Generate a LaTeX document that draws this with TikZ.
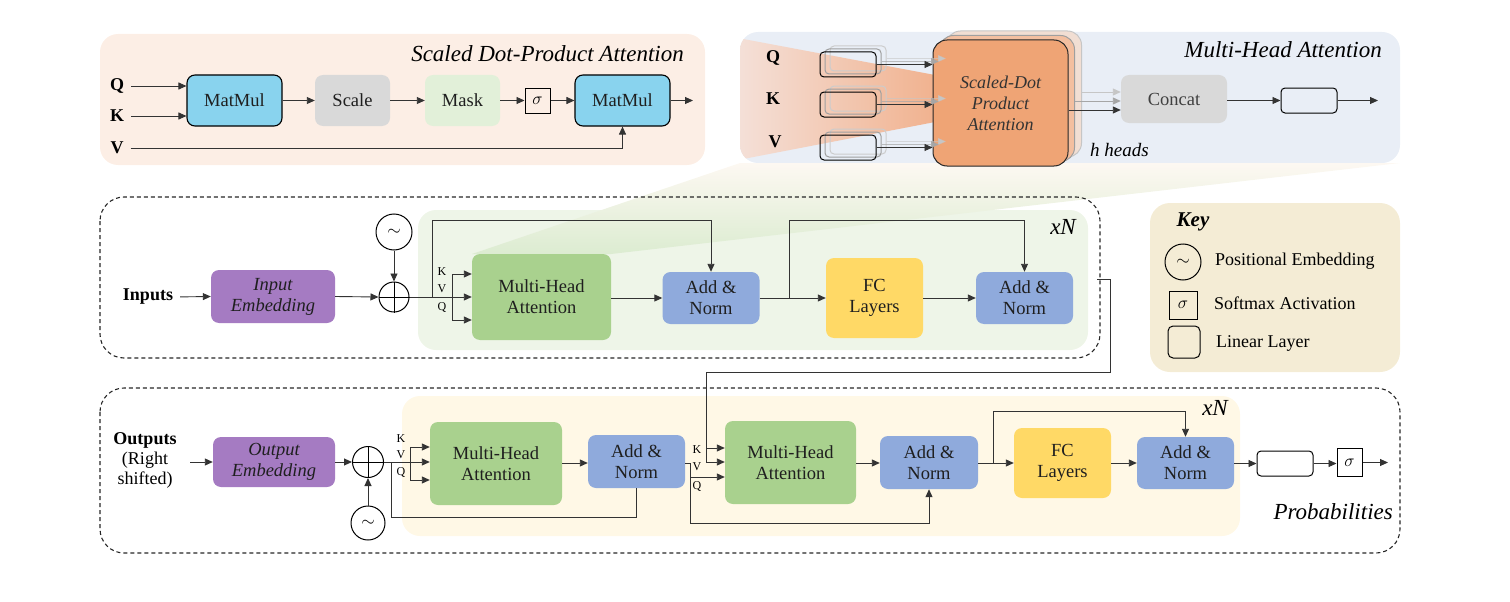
\documentclass[tikz,border=0pt]{standalone}
\usepackage{fontspec}
\setmainfont{Liberation Serif}
\usetikzlibrary{arrows.meta,calc}
\definecolor{linec}{HTML}{333333}
\definecolor{pabg}{HTML}{FCEEE5}
\definecolor{pbbg}{HTML}{E9EEF6}
\definecolor{cyanb}{HTML}{89D3EE}
\definecolor{greyb}{HTML}{D9D9D9}
\definecolor{maskb}{HTML}{E2F0D9}
\definecolor{orab}{HTML}{EFA475}
\definecolor{orab2}{HTML}{F3BFA0}
\definecolor{orab3}{HTML}{F1DED3}
\definecolor{purp}{HTML}{A57BC2}
\definecolor{greenb}{HTML}{A9D18E}
\definecolor{blueb}{HTML}{8FAADC}
\definecolor{yelb}{HTML}{FFD966}
\definecolor{encbg}{HTML}{EEF5E8}
\definecolor{decbg}{HTML}{FFF8E6}
\definecolor{keybg}{HTML}{F4ECD5}
\definecolor{fanl}{HTML}{F4E0D8}
\definecolor{fanr}{HTML}{F1B28F}
\definecolor{fant}{HTML}{FDF8F2}
\definecolor{fanb}{HTML}{DCECD1}
\begin{document}
\begin{tikzpicture}[x=1pt,y=-1pt,
  bx/.style={rounded corners=8pt, align=center, inner sep=0pt, font=\fontsize{18.5}{21}\selectfont, text=black!88},
  lbl/.style={inner sep=0pt, font=\bfseries\fontsize{18}{20}\selectfont},
  small/.style={inner sep=0pt, font=\fontsize{12}{13}\selectfont},
  title/.style={inner sep=0pt, font=\itshape\fontsize{23}{25}\selectfont},
  sig/.style={draw=black, line width=1pt, inner sep=0pt, font=\fontsize{17}{18}\selectfont},
  lin/.style={draw, rounded corners=4pt, line width=1pt, minimum width=56, minimum height=25, inner sep=0pt},
  sdb/.style={rounded corners=14pt, minimum width=135, minimum height=126, line width=1pt, inner sep=0pt, align=center, font=\itshape\fontsize{18}{21}\selectfont},
  circ/.style={circle, draw=black, line width=1pt, inner sep=0pt, font=\fontsize{18}{18}\selectfont},
  arr/.style={draw=linec, line width=0.9pt, -{Triangle[length=8pt,width=7pt]}},
  ln/.style={draw=linec, line width=0.9pt},
  dbox/.style={draw=black!85, line width=1.1pt, dash pattern=on 4pt off 3pt, rounded corners=24pt},
]
\useasboundingbox (0,0) rectangle (1510,602);

% ---------- backgrounds ----------
\fill[pabg, rounded corners=18pt] (100,34) rectangle (705,165);
\fill[pbbg, rounded corners=18pt] (740,32) rectangle (1400,163);
\fill[encbg, rounded corners=18pt] (418,210) rectangle (1088,350);
\fill[decbg, rounded corners=18pt] (402,396) rectangle (1240,536);
\fill[keybg, rounded corners=20pt] (1150,203) rectangle (1400,372);
\shade[top color=fant, bottom color=fanb] (472,254) -- (611,254) -- (1400,163) -- (740,163) -- cycle;
\begin{scope}
  \clip[rounded corners=18pt] (740,32) rectangle (1400,163);
  \shade[left color=fanl, right color=fanr] (738,38) -- (935,75) -- (935,122) -- (738,160) -- cycle;
\end{scope}
\draw[dbox] (100,197) rectangle (1100,358);
\draw[dbox] (100,388) rectangle (1400,553);

% ---------- Scaled Dot-Product Attention ----------
\node[title, anchor=east] (t1) at (684,54) {Scaled Dot-Product Attention};
\node[lbl] (qa) at (117,86) {Q};
\node[lbl] (ka) at (117,116) {K};
\node[lbl] (va) at (117,148) {V};
\node[bx, fill=cyanb, draw=black, line width=1.1pt, minimum width=95, minimum height=51] (mm1) at (234.5,100.5) {MatMul};
\node[bx, fill=greyb, minimum width=75, minimum height=51] (scale) at (352.5,100.5) {Scale};
\node[bx, fill=maskb, minimum width=75, minimum height=51] (mask) at (462.5,100.5) {Mask};
\node[sig, minimum size=25] (sg1) at (537.5,100.5) {$\sigma$};
\node[bx, fill=cyanb, draw=black, line width=1.1pt, minimum width=95, minimum height=51] (mm2) at (622.5,100.5) {MatMul};
\coordinate (o1) at (693,100.5);
\draw[arr, shorten <=7pt] (qa.east) -- (qa.east -| mm1.west);
\draw[arr, shorten <=7pt] (ka.east) -- (ka.east -| mm1.west);
\draw[arr, shorten <=7pt] (va.east) -| (mm2.south);
\draw[arr] (mm1) -- (scale);
\draw[arr] (scale) -- (mask);
\draw[arr] (mask) -- (sg1);
\draw[arr] (sg1) -- (mm2);
\draw[arr] (mm2.east) -- (o1);

% ---------- Multi-Head Attention ----------
\node[title, anchor=east] (t2) at (1382,50) {Multi-Head Attention};
\node[lbl] (qb) at (773,58) {Q};
\node[lbl] (kb) at (773,99) {K};
\node[lbl] (vb) at (775,142) {V};
\foreach \n/\yy in {q/64.5,k/104.5,v/147.5}{
  \node[lin, draw=gray!40] (l\n3) at (858,\yy-6) {};
  \node[lin, draw=gray!75] (l\n2) at (853,\yy-3) {};
  \node[lin, draw=black] (l\n1) at (848,\yy) {};
}
\node[sdb, fill=orab3, draw=gray!45] (sd3) at (1014,94) {};
\node[sdb, fill=orab2, draw=gray!75] (sd2) at (1007,98.5) {};
\node[sdb, fill=orab, draw=black!85, text=black!80] (sd1) at (1000.5,103) {Scaled-Dot\\Product\\Attention};
\foreach \n in {q,k,v}{
  \draw[arr, draw=gray!45, draw opacity=0.6] (l\n3.east) -- (l\n3.east -| sd3.west);
  \draw[arr, draw=gray!70, draw opacity=0.7] (l\n2.east) -- (l\n2.east -| sd2.west);
  \draw[arr] (l\n1.east) -- (l\n1.east -| sd1.west);
}
\node[bx, fill=greyb, minimum width=106, minimum height=48, text=black!75] (concat) at (1174,99) {Concat};
\coordinate (c1) at (0,110);
\coordinate (c2) at (0,101);
\coordinate (c3) at (0,92);
\draw[arr, draw=gray!45] (sd3.east |- c3) -- (concat.west |- c3);
\draw[arr, draw=gray!70] (sd2.east |- c2) -- (concat.west |- c2);
\draw[arr] (sd1.east |- c1) -- (concat.west |- c1);
\node[lin, draw=black] (lo) at (1309,100.5) {};
\coordinate (o2) at (1378,100.5);
\draw[arr] (concat.east |- lo) -- (lo.west);
\draw[arr] (lo.east) -- (o2);
\node[inner sep=0pt, anchor=west, font=\itshape\fontsize{19}{20}\selectfont] (hh) at (1090,150) {h heads};

% ---------- Encoder ----------
\node[title, anchor=east] (xn1) at (1076,227) {xN};
\node[lbl] (inp) at (148,297) {Inputs};
\node[bx, fill=purp, minimum width=124, minimum height=53, font=\itshape\fontsize{18.5}{21}\selectfont] (inemb) at (273,296.5) {Input\\Embedding};
\node[circ, minimum size=30] (add1) at (394,297) {};
\draw[line width=1pt] (add1.north) -- (add1.south) (add1.west) -- (add1.east);
\node[circ, minimum size=36] (pe1) at (394,232) {$\sim$};
\node[bx, fill=greenb, minimum width=139, minimum height=86] (mha1) at (541.5,297) {Multi-Head\\Attention};
\node[bx, fill=blueb, minimum width=97, minimum height=52] (an1) at (711,298) {Add \&\\Norm};
\node[bx, fill=yelb, minimum width=97, minimum height=80] (fc1) at (874.5,298) {FC\\Layers};
\node[bx, fill=blueb, minimum width=97, minimum height=52] (an2) at (1024.5,298) {Add \&\\Norm};
\node[small] (ek) at (442,272) {K};
\node[small] (ev) at (442,289) {V};
\node[small] (eq) at (442,307) {Q};
\coordinate (ej) at (452,297);
\coordinate (es) at (432,297);
\coordinate (etop) at (0,220);
\coordinate (eb1) at (452,274);
\coordinate (eb3) at (452,320);
\draw[arr, shorten <=7pt] (inp.east) -- (inemb.west);
\draw[arr] (inemb.east) -- (add1.west);
\draw[arr] (pe1.south) -- (add1.north);
\draw[ln] (add1.east) -- (ej);
\draw[ln] (eb1) -- (eb3);
\draw[arr] (eb1) -- (eb1 -| mha1.west);
\draw[arr] (ej) -- (ej -| mha1.west);
\draw[arr] (eb3) -- (eb3 -| mha1.west);
\draw[arr] (es) -- (es |- etop) -| (an1.north);
\draw[arr] (mha1.east |- an1.west) -- (an1.west);
\draw[arr] (an1.east) -- (fc1.west |- an1.east);
\coordinate (eb2) at (789,298);
\draw[arr] (eb2) -- (eb2 |- etop) -| (an2.north);
\draw[arr] (fc1.east |- an2.west) -- (an2.west);

% ---------- Key ----------
\node[inner sep=0pt, font=\bfseries\itshape\fontsize{21}{22}\selectfont] (keyt) at (1193,222) {Key};
\node[circ, minimum size=36] (kpe) at (1183,262) {$\sim$};
\node[inner sep=0pt, anchor=west, font=\fontsize{18}{20}\selectfont] (kpet) at (1215,261) {Positional Embedding};
\node[sig, minimum size=28] (ksg) at (1183,305) {$\sigma$};
\node[inner sep=0pt, anchor=west, font=\fontsize{18}{20}\selectfont] (ksgt) at (1214,303) {Softmax Activation};
\node[draw=black, line width=1pt, rounded corners=5pt, minimum size=32, inner sep=0pt] (kln) at (1184,342) {};
\node[inner sep=0pt, anchor=west, font=\fontsize{18}{20}\selectfont] (klnt) at (1216,343) {Linear Layer};

% ---------- Decoder ----------
\node[title, anchor=east] (xn2) at (1228,408) {xN};
\node[title, anchor=east] (prob) at (1393,512) {Probabilities};
\node[inner sep=0pt, align=center, font=\fontsize{18}{20}\selectfont] (outp) at (145,460) {\textbf{Outputs}\\(Right\\shifted)};
\node[bx, fill=purp, minimum width=122, minimum height=50, font=\itshape\fontsize{18.5}{21}\selectfont] (outemb) at (274,462) {Output\\Embedding};
\node[circ, minimum size=31] (add2) at (368,462) {};
\draw[line width=1pt] (add2.north) -- (add2.south) (add2.west) -- (add2.east);
\node[circ, minimum size=34] (pe2) at (368,523) {$\sim$};
\node[bx, fill=greenb, minimum width=132, minimum height=83] (mhad1) at (496,463.5) {Multi-Head\\Attention};
\node[bx, fill=blueb, minimum width=97, minimum height=53] (and1) at (636.5,461.5) {Add \&\\Norm};
\node[bx, fill=greenb, minimum width=131, minimum height=83] (mhad2) at (790.5,462.5) {Multi-Head\\Attention};
\node[bx, fill=blueb, minimum width=98, minimum height=53] (and2) at (929,462.5) {Add \&\\Norm};
\node[bx, fill=yelb, minimum width=97, minimum height=70] (fcd) at (1062.5,463) {FC\\Layers};
\node[bx, fill=blueb, minimum width=97, minimum height=52] (and3) at (1185.5,463) {Add \&\\Norm};
\node[lin, draw=black] (lind) at (1285,463.5) {};
\node[sig, minimum width=25, minimum height=28] (sgd) at (1349.5,462.5) {$\sigma$};
\coordinate (o3) at (1388,462.5);
\node[small] (dk1) at (401,439) {K};
\node[small] (dv1) at (401,455) {V};
\node[small] (dq1) at (401,472) {Q};
\node[small] (dk2) at (697,450) {K};
\node[small] (dv2) at (697,467) {V};
\node[small] (dq2) at (697,486) {Q};
% inputs
\coordinate (oin) at (190,462);
\draw[arr] (oin) -- (outemb.west);
\draw[arr] (outemb.east) -- (add2.west);
\draw[arr] (pe2.north) -- (add2.south);
\coordinate (dj) at (410,462);
\coordinate (db1) at (410,447);
\coordinate (db3) at (410,480);
\draw[ln] (add2.east) -- (dj);
\draw[ln] (db1) -- (db3);
\draw[arr] (db1) -- (db1 -| mhad1.west);
\draw[arr] (dj) -- (dj -| mhad1.west);
\draw[arr] (db3) -- (db3 -| mhad1.west);
\coordinate (ds) at (391,462);
\coordinate (dlow1) at (0,517);
\draw[ln] (ds) -- (ds |- dlow1) -| (and1.south);
\draw[arr] (mhad1.east |- 0,463) -- (and1.west |- 0,463);
% second block
\coordinate (dj2) at (690,463);
\coordinate (dlow2) at (0,523);
\coordinate (dq) at (690,477);
\draw[ln] (and1.east |- dj2) -- (dj2);
\draw[arr] (dj2) -- (dj2 |- dlow2) -| (and2.south);
\draw[arr] (dq) -- (dq -| mhad2.west);
% encoder to decoder
\coordinate (e1) at (1097,279);
\coordinate (e2) at (1110,279);
\coordinate (e3) at (1110,372);
\coordinate (e4) at (706,372);
\coordinate (ek2) at (706,448);
\coordinate (ev2) at (706,462);
\draw[ln] (e1) -- (e2) -- (e3) -- (e4) -- (ev2);
\draw[arr] (ek2) -- (ek2 -| mhad2.west);
\draw[arr] (ev2) -- (ev2 -| mhad2.west);
\draw[arr] (mhad2.east |- 0,463) -- (and2.west |- 0,463);
\draw[arr] (and2.east |- 0,463) -- (fcd.west |- 0,463);
\coordinate (db2) at (993,463);
\coordinate (dtop) at (0,411);
\draw[arr] (db2) -- (db2 |- dtop) -| (and3.north);
\draw[arr] (fcd.east |- 0,463) -- (and3.west |- 0,463);
\draw[arr] (and3.east |- lind) -- (lind.west);
\draw[arr] (lind.east) -- (sgd.west |- lind);
\draw[arr] (sgd.east) -- (o3);
\end{tikzpicture}
\end{document}
